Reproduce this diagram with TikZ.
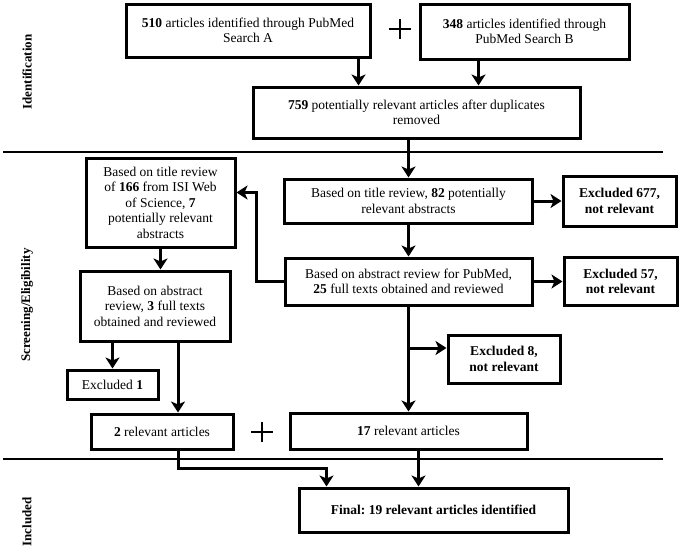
\documentclass[tikz,border=0pt]{standalone}
\usepackage{fontspec}
\setmainfont{Liberation Serif}
\usetikzlibrary{arrows.meta}
\frenchspacing

\begin{document}
\begin{tikzpicture}[x=1pt, y=-1pt,
    box/.style={draw, line width=3pt, align=center, inner sep=2pt,
        font=\fontsize{13.5}{15.5}\selectfont},
    boldbox/.style={box, font=\fontsize{13.5}{15.5}\selectfont\bfseries},
    flow/.style={line width=3pt, -{Stealth[length=11pt, width=14pt, inset=3pt]}},
    sepline/.style={line width=1.5pt},
    plusbar/.style={line width=2.6pt},
    phase/.style={rotate=90, font=\fontsize{13}{15}\selectfont\bfseries}]
    \useasboundingbox (0,0) rectangle (680,555);

    % Phase separators and labels
    \draw[sepline] (3,152) -- (663,152);
    \draw[sepline] (3,459) -- (663,459);
    \node[phase] (phaseIdent) at (27,72) {Identification};
    \node[phase] (phaseScreen) at (27,305) {Screening/Eligibility};
    \node[phase] (phaseIncl) at (27,522) {Included};

    % Identification
    \node[box, minimum width=244pt, minimum height=53pt] (srcA) at (248,30.5)
        {\textbf{510} articles identified through PubMed\\Search A};
    \node[box, minimum width=209pt, minimum height=55pt] (srcB) at (524.5,31.5)
        {\textbf{348} articles identified through\\PubMed Search B};
    \node[box, minimum width=327pt, minimum height=51pt] (dedup) at (416.5,112.5)
        {\textbf{759} potentially relevant articles after duplicates\\removed};

    % Screening/Eligibility
    \node[box, minimum width=248pt, minimum height=44pt] (titleRev) at (408.5,201)
        {Based on title review, \textbf{82} potentially\\relevant abstracts};
    \node[boldbox, minimum width=113pt, minimum height=50pt] (exclTitle) at (619.5,201)
        {Excluded 677,\\not relevant};
    \node[box, minimum width=247pt, minimum height=47pt] (abstRev) at (408.5,281.5)
        {Based on abstract review for PubMed,\\\textbf{25} full texts obtained and reviewed};
    \node[boldbox, minimum width=113pt, minimum height=48pt] (exclAbst) at (620.5,281.5)
        {Excluded 57,\\not relevant};
    \node[box, minimum width=149pt, minimum height=89pt] (isiTitle) at (160.5,202.5)
        {Based on title review\\of \textbf{166} from ISI Web\\of Science, \textbf{7}\\potentially relevant\\abstracts};
    \node[box, minimum width=150pt, minimum height=70pt] (isiAbst) at (155,306)
        {Based on abstract\\review, \textbf{3} full texts\\obtained and reviewed};
    \node[box, minimum width=91pt, minimum height=29pt] (exclIsi) at (112.5,384.5)
        {Excluded \textbf{1}};
    \node[boldbox, minimum width=112pt, minimum height=48pt] (exclFull) at (504,359)
        {Excluded 8,\\not relevant};
    \node[box, minimum width=142pt, minimum height=35pt] (relIsi) at (162,431.5)
        {\textbf{2} relevant articles};
    \node[box, minimum width=237pt, minimum height=36pt] (relPub) at (408.5,431)
        {\textbf{17} relevant articles};

    % Included
    \node[boldbox, minimum width=269pt, minimum height=44pt] (final) at (433.5,510)
        {Final: 19 relevant articles identified};

    % Plus signs
    \foreach \px/\py in {400/29, 262/432} {
        \draw[plusbar] (\px-11,\py) -- (\px+11,\py) (\px,\py-10) -- (\px,\py+10);
    }

    % Identification arrows
    \coordinate (aOut) at ([xshift=-13pt]srcA.south east);
    \coordinate (bOut) at ([xshift=-46pt]srcB.south);
    \draw[flow] (aOut) -- (aOut |- dedup.north);
    \draw[flow] (bOut) -- (bOut |- dedup.north);
    \draw[flow] (dedup.south -| titleRev.north) -- (titleRev.north);

    % Screening arrows
    \draw[flow] (titleRev.east) -- (exclTitle.west);
    \draw[flow] (titleRev.south) -- (abstRev.north);
    \draw[flow] (abstRev.east) -- (exclAbst.west);
    \draw[flow] (abstRev.west) -- ++(-27,0) |- ([yshift=10pt]isiTitle.east);
    \draw[flow] (isiTitle.south) -- (isiTitle.south |- isiAbst.north);
    \draw[flow] (isiAbst.south -| exclIsi.north) -- (exclIsi.north);
    \coordinate (isiDown) at ([xshift=16pt]relIsi.north);
    \draw[flow] (isiDown |- isiAbst.south) -- (isiDown);
    \draw[flow] (abstRev.south) -- (relPub.north);
    \coordinate (fullIn) at ([yshift=11pt]exclFull.west);
    \draw[flow] (fullIn -| abstRev.south) -- (fullIn);

    % Included arrows
    \coordinate (finIn) at ([xshift=-107pt]final.north);
    \draw[flow] ([xshift=16pt]relIsi.south) -- ++(0,18) -| (finIn);
    \coordinate (pubDown) at ([xshift=10pt]relPub.south);
    \draw[flow] (pubDown) -- (pubDown |- final.north);
\end{tikzpicture}
\end{document}
